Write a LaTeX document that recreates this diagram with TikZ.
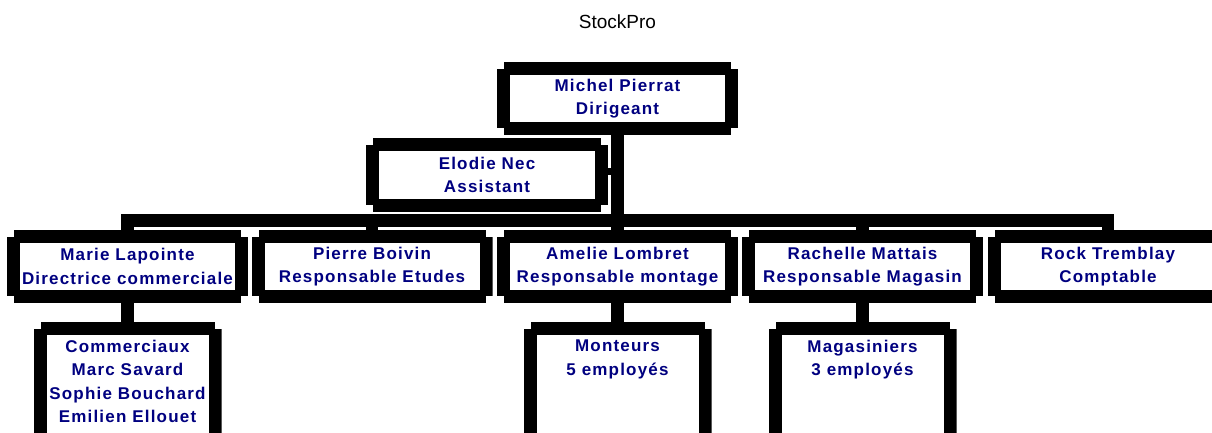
\documentclass[tikz,border=0pt]{standalone}
\usepackage{fontspec}
\setmainfont{Liberation Sans}
\newfontfamily\boxfont[LetterSpace=7]{Liberation Sans}
\definecolor{navy}{RGB}{0,0,128}
\tikzset{
  notched/.style={inner sep=0pt, fill=white,
    path picture={
      \fill[black] ([xshift=7pt]path picture bounding box.north west) rectangle ([xshift=-7pt,yshift=-13pt]path picture bounding box.north east);
      \fill[black] ([xshift=7pt,yshift=13pt]path picture bounding box.south west) rectangle ([xshift=-7pt]path picture bounding box.south east);
      \fill[black] ([yshift=-7pt]path picture bounding box.north west) rectangle ([xshift=13pt,yshift=7pt]path picture bounding box.south west);
      \fill[black] ([xshift=-13pt,yshift=-7pt]path picture bounding box.north east) rectangle ([yshift=7pt]path picture bounding box.south east);
    }},
  txt/.style={text=navy, align=center, font=\boxfont\bfseries\fontsize{17}{23.3}\selectfont},
  box/.style={notched, txt, minimum width=241pt, minimum height=73pt},
  lowbox/.style={notched, minimum width=188pt, minimum height=140pt, anchor=north},
  conn/.style={draw=black, line width=12.5pt, line join=miter},
}
\begin{document}
\begin{tikzpicture}[x=1pt,y=-1pt]
\useasboundingbox (0,0) rectangle (1212,432);
\clip (0,0) rectangle (1212,432);
\fill[white] (0,0) rectangle (1212,432);

\node[anchor=base, font=\fontsize{19}{21}\selectfont] (title) at (617.5,28) {StockPro};

\node[box] (michel) at (617.5,98.5) {Michel Pierrat\\Dirigeant};
\node[box, minimum width=242pt, minimum height=74pt] (elodie) at (487,175) {Elodie Nec\\Assistant};

\node[box] (marie) at (127.5,266.5) {Marie Lapointe\\Directrice commerciale};
\node[box] (pierre) at (372,266.5) {Pierre Boivin\\Responsable Etudes};
\node[box] (amelie) at (617.5,266.5) {Amelie Lombret\\Responsable montage};
\node[box] (rachelle) at (862.5,266.5) {Rachelle Mattais\\Responsable Magasin};
\node[box] (rock) at (1108,266.5) {Rock Tremblay\\Comptable};

\node[lowbox] (comm) at (127.5,322) {};
\node[lowbox] (mont) at (617.5,322) {};
\node[lowbox] (mag) at (862.5,322) {};
\node[txt, anchor=north, inner sep=0pt] (commT) at (127.5,340) {Commerciaux\\Marc Savard\\Sophie Bouchard\\Emilien Ellouet};
\node[txt, anchor=north, inner sep=0pt] (montT) at (617.5,340) {Monteurs\\5 employés};
\node[txt, anchor=north, inner sep=0pt] (magT) at (862.5,340) {Magasiniers\\3 employés};

\coordinate (bar) at (0,220.5);
\draw[conn] (marie.north) -- (marie.north |- bar) -- (rock.north |- bar) -- (rock.north);
\draw[conn] (michel.south) -- (michel.south |- bar);
\draw[conn] (pierre.north |- bar) -- (pierre.north);
\draw[conn] (amelie.north |- bar) -- (amelie.north);
\draw[conn] (rachelle.north |- bar) -- (rachelle.north);
\coordinate (es) at ([yshift=3.5pt]elodie.east);
\draw[line width=7pt] (es) -- (es -| michel.south);

\draw[conn] (marie.south) -- (comm.north);
\draw[conn] (amelie.south) -- (mont.north);
\draw[conn] (rachelle.south) -- (mag.north);
\end{tikzpicture}
\end{document}
